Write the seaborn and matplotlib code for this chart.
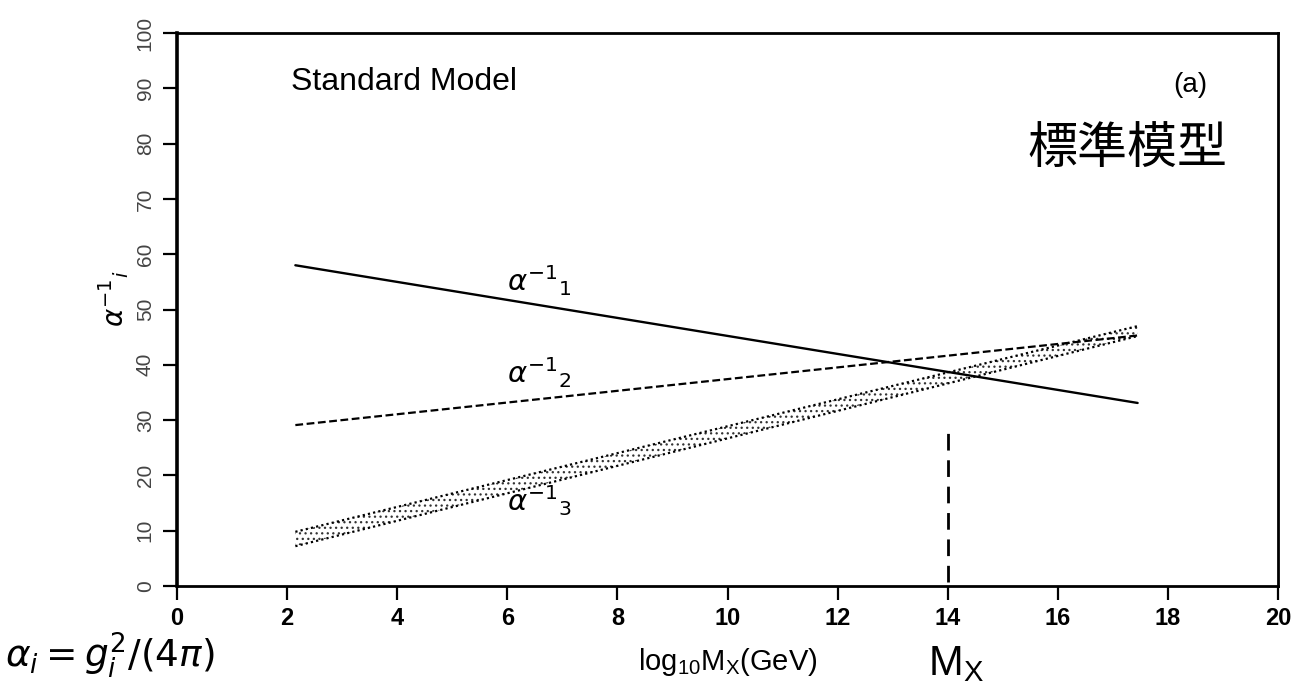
import numpy as np
import pandas as pd
import matplotlib
matplotlib.use("Agg")
import matplotlib.pyplot as plt
import seaborn as sns

# Inverse gauge couplings vs log10 of the unification scale (Standard Model)
log_m = [2.15, 17.45]           # log10 Mx (GeV), ends of the plotted running
alpha1_inv = [58.0, 33.1]       # U(1)
alpha2_inv = [29.1, 45.3]       # SU(2)
alpha3_inv_lo = [7.2, 45.2]     # SU(3), lower edge of the band
alpha3_inv_hi = [9.8, 47.0]     # SU(3), upper edge of the band
mx_log = 14.0                   # marked unification scale
mx_top = 29.0

x_ticks = list(range(0, 21, 2))
y_ticks = list(range(0, 101, 10))

sns.set_theme(style="white")
plt.rcParams["font.family"] = ["Liberation Sans", "Noto Sans CJK JP", "DejaVu Sans"]
plt.rcParams["hatch.linewidth"] = 0.9
for key in ("text.color", "axes.labelcolor", "xtick.color", "ytick.color"):
    plt.rcParams[key] = "black"

fig = plt.figure(figsize=(12.97, 6.91), dpi=100)
ax = fig.add_axes([177 / 1297, 1 - 586 / 691, 1101 / 1297, (586 - 33) / 691])

df = pd.DataFrame({
    "logM": log_m,
    "a1": alpha1_inv,
    "a2": alpha2_inv,
    "a3lo": alpha3_inv_lo,
    "a3hi": alpha3_inv_hi,
})

sns.lineplot(data=df, x="logM", y="a1", ax=ax, color="black", lw=1.7,
             estimator=None, sort=False)
sns.lineplot(data=df, x="logM", y="a2", ax=ax, color="black", lw=1.6,
             linestyle=(0, (3.5, 1.6)), estimator=None, sort=False)

# SU(3) band: stippled fill with dotted edges
ax.fill_between(df["logM"], df["a3lo"], df["a3hi"], facecolor="none",
                edgecolor="#333333", hatch="...", linewidth=0)
for col in ("a3lo", "a3hi"):
    sns.lineplot(data=df, x="logM", y=col, ax=ax, color="black", lw=1.6,
                 linestyle=(0, (1, 1.4)), estimator=None, sort=False)

ax.vlines(mx_log, 0.8, mx_top, colors="black", lw=2.0,
          linestyles=[(0, (6, 3.5))])

ax.set_xlim(0, 20)
ax.set_ylim(0, 100)
ax.set_xticks(x_ticks)
ax.set_yticks(y_ticks)
ax.set_xticklabels([str(v) for v in x_ticks], fontsize=17, fontweight="bold")
ax.set_yticklabels([str(v) for v in y_ticks], fontsize=15, rotation=90,
                   va="center", color="#444444")
ax.tick_params(axis="x", direction="out", length=10, width=1.6, pad=5,
               bottom=True, top=False)
ax.tick_params(axis="y", direction="out", length=10, width=1.6, pad=6,
               left=True, right=False)
for side, lw in (("left", 2.6), ("bottom", 2.0), ("top", 2.0), ("right", 2.0)):
    ax.spines[side].set_visible(True)
    ax.spines[side].set_color("black")
    ax.spines[side].set_linewidth(lw)

ax.set_xlabel(r"$\mathregular{log_{10}M_X(GeV)}$", fontsize=21, labelpad=12)
ax.set_ylabel(r"$\alpha^{-1}{}_{i}$", fontsize=20, rotation=90)
ax.yaxis.set_label_coords(-0.042, 0.52)

# Curve labels
ax.text(6.0, 53.3, r"$\alpha^{-1}{}_{1}$", fontsize=21, ha="left", va="baseline")
ax.text(6.0, 36.7, r"$\alpha^{-1}{}_{2}$", fontsize=21, ha="left", va="baseline")
ax.text(6.0, 13.6, r"$\alpha^{-1}{}_{3}$", fontsize=21, ha="left", va="baseline")

ax.text(2.07, 89.7, "Standard Model", fontsize=23, ha="left", va="baseline")
ax.text(18.4, 90.6, "(a)", fontsize=20, ha="center", va="center")
ax.text(17.27, 78.8, "標準模型", fontsize=36, ha="center", va="center",
        family=["Noto Sans CJK JP", "DejaVu Sans"])

fig.text(5 / 1297, 1 - 667 / 691, r"$\alpha_i = g_i^2/(4\pi)$", fontsize=27,
         ha="left", va="baseline")
fig.text(956 / 1297, 1 - 664 / 691, r"$\mathregular{M_X}$", fontsize=30,
         ha="center", va="center")

fig.savefig("out.png", dpi=100, facecolor="white")
